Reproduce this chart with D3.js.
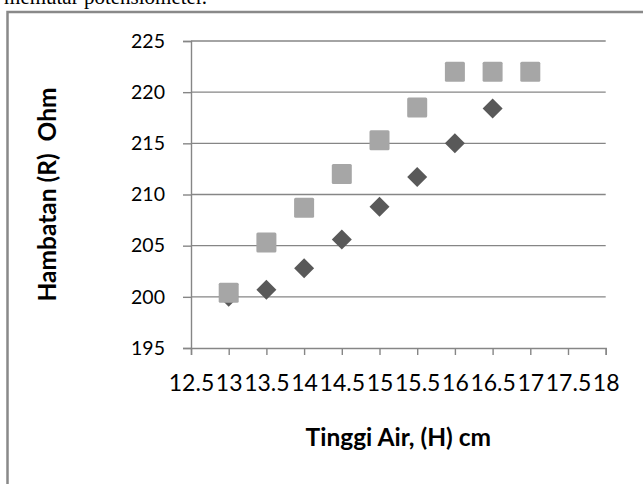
<!DOCTYPE html>
<html>
<head>
<meta charset="utf-8">
<script src="https://cdn.jsdelivr.net/npm/d3@7"></script>
<style>
  html, body { margin: 0; padding: 0; background: #fff; }
  svg { display: block; }
</style>
</head>
<body>
<div id="chart"></div>
<script>
// Tinggi air (cm) et hambatan (Ohm)
const heights      = [13, 13.5, 14, 14.5, 15, 15.5, 16, 16.5, 17];
const seriesNaik   = [200.0, 200.7, 202.8, 205.6, 208.8, 211.7, 215.0, 218.4];
const seriesTurun  = [200.4, 205.3, 208.7, 212.0, 215.3, 218.5, 222.0, 222.0, 222.0];
const xTicks       = [12.5, 13, 13.5, 14, 14.5, 15, 15.5, 16, 16.5, 17, 17.5, 18];
const yTicks       = [195, 200, 205, 210, 215, 220, 225];

const W = 643, H = 484;
const plot = { left: 191, right: 605.7, top: 41, bottom: 348 };
const axisGrey = '#868686';

const svg = d3.select('#chart').append('svg')
    .attr('width', W)
    .attr('height', H);

// Texte du document, coupé en haut
svg.append('text')
    .attr('x', 207)
    .attr('y', 4)
    .attr('text-anchor', 'end')
    .attr('font-family', '"Liberation Serif", "Times New Roman", serif')
    .attr('font-size', 21)
    .attr('fill', '#000')
    .text('memutar potensiometer.');

// Cadre du graphique
svg.append('rect')
    .attr('x', 7.5)
    .attr('y', 12)
    .attr('width', W + 20)
    .attr('height', H + 20)
    .attr('fill', 'none')
    .attr('stroke', '#898989')
    .attr('stroke-width', 2.5);

const x = d3.scaleLinear().domain([12.5, 18]).range([plot.left, plot.right]);
const y = d3.scaleLinear().domain([195, 225]).range([plot.bottom, plot.top]);

// ── Gridlines ──────────────────────────────────────────────────────────────
svg.append('g')
    .selectAll('line')
    .data(yTicks.filter(v => v > 195))
    .join('line')
    .attr('x1', plot.left)
    .attr('x2', plot.right)
    .attr('y1', d => y(d))
    .attr('y2', d => y(d))
    .attr('stroke', axisGrey)
    .attr('stroke-width', 1.4);

// ── Axe Y ──────────────────────────────────────────────────────────────────
const gy = svg.append('g')
    .attr('transform', `translate(${plot.left},0)`)
    .call(d3.axisLeft(y).tickValues(yTicks).tickSize(8).tickPadding(18).tickFormat(d3.format('d')));
gy.select('.domain').attr('stroke', axisGrey).attr('stroke-width', 1.4);
gy.selectAll('.tick line').attr('stroke', axisGrey).attr('stroke-width', 1.4);
gy.selectAll('.tick text')
    .attr('font-family', 'Lato, "Open Sans", sans-serif')
    .attr('font-size', 19.5)
    .attr('fill', '#000');

// ── Axe X ──────────────────────────────────────────────────────────────────
const gx = svg.append('g')
    .attr('transform', `translate(0,${plot.bottom})`)
    .call(d3.axisBottom(x).tickValues(xTicks).tickSize(7).tickPadding(20).tickFormat(d3.format('')));
gx.select('.domain').attr('stroke', axisGrey).attr('stroke-width', 1.4);
gx.selectAll('.tick line').attr('stroke', axisGrey).attr('stroke-width', 1.4);
gx.selectAll('.tick text')
    .attr('font-family', 'Lato, "Open Sans", sans-serif')
    .attr('font-size', 23)
    .attr('fill', '#000');

// ── Titres des axes ────────────────────────────────────────────────────────
svg.append('text')
    .attr('x', (plot.left + plot.right) / 2)
    .attr('y', 446)
    .attr('text-anchor', 'middle')
    .attr('font-family', 'Lato, "Open Sans", sans-serif')
    .attr('font-weight', 'bold')
    .attr('font-size', 24.5)
    .attr('fill', '#000')
    .text('Tinggi Air, (H) cm');

svg.append('text')
    .attr('transform', `translate(56,${(plot.top + plot.bottom) / 2}) rotate(-90)`)
    .attr('text-anchor', 'middle')
    .attr('font-family', 'Lato, "Open Sans", sans-serif')
    .attr('font-weight', 'bold')
    .attr('font-size', 24.5)
    .attr('fill', '#000')
    .style('white-space', 'pre')
    .text('Hambatan (R)  Ohm');

// ── Séries ─────────────────────────────────────────────────────────────────
const diamond = d3.symbol().type(d3.symbolSquare).size(200);

svg.append('g')
    .selectAll('path')
    .data(seriesNaik)
    .join('path')
    .attr('d', diamond)
    .attr('transform', (d, i) => `translate(${x(heights[i])},${y(d)}) rotate(45)`)
    .attr('fill', '#595959');

svg.append('g')
    .selectAll('rect')
    .data(seriesTurun)
    .join('rect')
    .attr('x', (d, i) => x(heights[i]) - 10)
    .attr('y', d => y(d) - 10)
    .attr('width', 20)
    .attr('height', 20)
    .attr('rx', 1.5)
    .attr('fill', '#a6a6a6');
</script>
</body>
</html>
